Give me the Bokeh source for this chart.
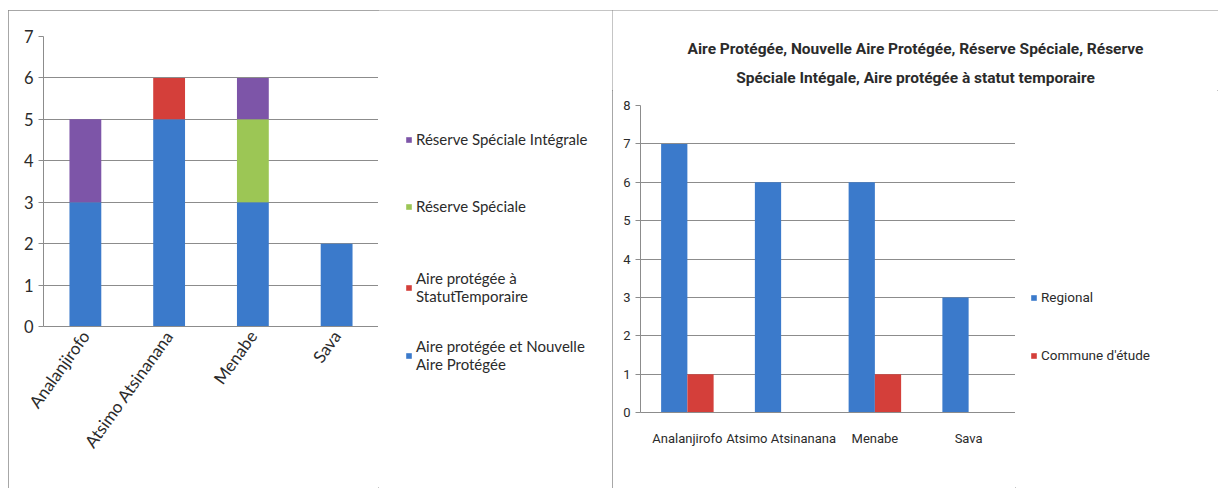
from bokeh.plotting import figure
from bokeh.layouts import row, column
from bokeh.models import (ColumnDataSource, Range1d, FactorRange, FixedTicker,
                          Legend, LegendItem, Label)
from bokeh.transform import dodge
from bokeh.embed import file_html
from bokeh.resources import INLINE

# ---------------- data ----------------
regions = ["Analanjirofo", "Atsimo Atsinanana", "Menabe", "Sava"]
# left chart (stacked)
aire_protegee_nap = [3, 5, 3, 2]
aire_statut_temp = [0, 1, 0, 0]
reserve_speciale = [0, 0, 2, 0]
reserve_spec_integrale = [2, 0, 1, 0]
left_ticks = [0, 1, 2, 3, 4, 5, 6, 7]
left_legend = ["Réserve Spéciale Intégrale", "Réserve Spéciale",
               "Aire protégée à\nStatutTemporaire",
               "Aire protégée et Nouvelle\nAire Protégée"]
# right chart (grouped)
regional = [7, 6, 6, 3]
commune_etude = [1, 0, 1, 0]
right_ticks = [0, 1, 2, 3, 4, 5, 6, 7, 8]
right_legend = ["Regional", "Commune d'étude"]
right_title = ["Aire Protégée, Nouvelle Aire Protégée, Réserve Spéciale, Réserve",
               "Spéciale Intégale, Aire protégée à statut temporaire"]

BLUE = "#3b7acb"
RED = "#d43f3a"
GREEN = "#9cc655"
PURPLE = "#7d55a8"
GRID = "#8c8c8c"
TXT = "#2b2b2b"
OUTLINE = {"outline": "1px solid #8a8a8a", "outline-offset": "-1px"}
NAN = float("nan")

FONT_L = "Lato"
FONT_R = "Roboto"


def blank(w, h):
    f = figure(width=w, height=h, output_backend="svg", toolbar_location=None,
               x_axis_location=None, y_axis_location=None,
               x_range=Range1d(0, 1), y_range=Range1d(0, 1),
               min_border=0, outline_line_color=None)
    f.grid.grid_line_color = None
    return f


def style_axes(p, font, size):
    for ax in (p.xaxis[0], p.yaxis[0]):
        ax.axis_line_color = GRID
        ax.major_tick_line_color = GRID
        ax.major_tick_in = 0
        ax.major_tick_out = 5
        ax.minor_tick_line_color = None
        ax.major_label_text_font = font
        ax.major_label_text_font_size = size
        ax.major_label_text_color = TXT
    p.xaxis.major_tick_line_color = None
    p.xaxis.major_tick_out = 0
    p.outline_line_color = None
    p.xgrid.grid_line_color = None
    p.ygrid.grid_line_color = GRID


# ---------------- left chart ----------------
src_l = ColumnDataSource(dict(regions=regions, ap=aire_protegee_nap, tmp=aire_statut_temp,
                              rs=reserve_speciale, rsi=reserve_spec_integrale))
p1 = figure(x_range=FactorRange(*regions), y_range=Range1d(0, 7),
            width=370, height=478, output_backend="svg", toolbar_location=None,
            min_border_left=35, min_border_right=0, min_border_top=26, min_border_bottom=162)
p1.vbar_stack(["ap", "tmp", "rs", "rsi"], x="regions", width=0.38,
              color=[BLUE, RED, GREEN, PURPLE], line_color=None, source=src_l)
style_axes(p1, FONT_L, "17px")
p1.yaxis.major_label_text_font_size = "16.5px"
p1.yaxis.ticker = FixedTicker(ticks=left_ticks)
p1.xaxis.major_label_orientation = 0.95
p1.xaxis.major_label_standoff = 6

# left legend (own canvas so it is not clipped by the chart frame)
lg1 = blank(234, 478)
leg_colors_l = [PURPLE, GREEN, RED, BLUE]
leg_y_l = [340, 273, 183, 115]  # legend bottoms, px from canvas bottom
for lab, col, yb in zip(left_legend, leg_colors_l, leg_y_l):
    r = lg1.vbar(x=[NAN], top=[NAN], width=0.1, color=col, line_color=None)
    lg1.add_layout(Legend(items=[LegendItem(label=lab, renderers=[r])],
                          location=(27, yb), padding=0, margin=0,
                          glyph_width=7, glyph_height=7, label_standoff=4,
                          label_text_font=FONT_L, label_text_font_size="15px",
                          label_text_color=TXT,
                          border_line_color=None, background_fill_alpha=0), "center")

left_box = row(column(p1), column(lg1), styles=OUTLINE)

# ---------------- right chart ----------------
tfig = blank(606, 80)
for txt, yb in zip(right_title, [42, 13]):
    tfig.add_layout(Label(x=303, y=yb, x_units="screen", y_units="screen", text=txt,
                          text_align="center", text_baseline="middle", text_font=FONT_R,
                          text_font_size="15.5px", text_font_style="bold", text_color=TXT))

src_r = ColumnDataSource(dict(regions=regions, reg=regional, com=commune_etude))
p2 = figure(x_range=FactorRange(*regions), y_range=Range1d(0, 8),
            width=403, height=398, output_backend="svg", toolbar_location=None,
            min_border_left=28, min_border_right=0, min_border_top=15, min_border_bottom=76)
p2.vbar(x=dodge("regions", -0.14, range=p2.x_range), top="reg", width=0.28,
        color=BLUE, line_color=None, source=src_r)
p2.vbar(x=dodge("regions", 0.14, range=p2.x_range), top="com", width=0.28,
        color=RED, line_color=None, source=src_r)
style_axes(p2, FONT_R, "13px")
p2.yaxis.ticker = FixedTicker(ticks=right_ticks)
p2.xaxis.major_label_standoff = 18

lg2 = blank(203, 398)
rr = [lg2.vbar(x=[NAN], top=[NAN], width=0.1, color=c, line_color=None) for c in (BLUE, RED)]
lg2.add_layout(Legend(items=[LegendItem(label=l, renderers=[r]) for l, r in zip(right_legend, rr)],
                      location=(15, 125), padding=0, margin=0, spacing=42,
                      glyph_width=7, glyph_height=7, label_standoff=4,
                      label_text_font=FONT_R, label_text_font_size="13.5px",
                      label_text_color=TXT,
                      border_line_color=None, background_fill_alpha=0), "center")

right_box = column(column(tfig), row(column(p2), column(lg2)), styles=OUTLINE)

layout = row(left_box, right_box, margin=(10, 0, 0, 8))
open("out.html", "w").write(file_html(layout, INLINE))
